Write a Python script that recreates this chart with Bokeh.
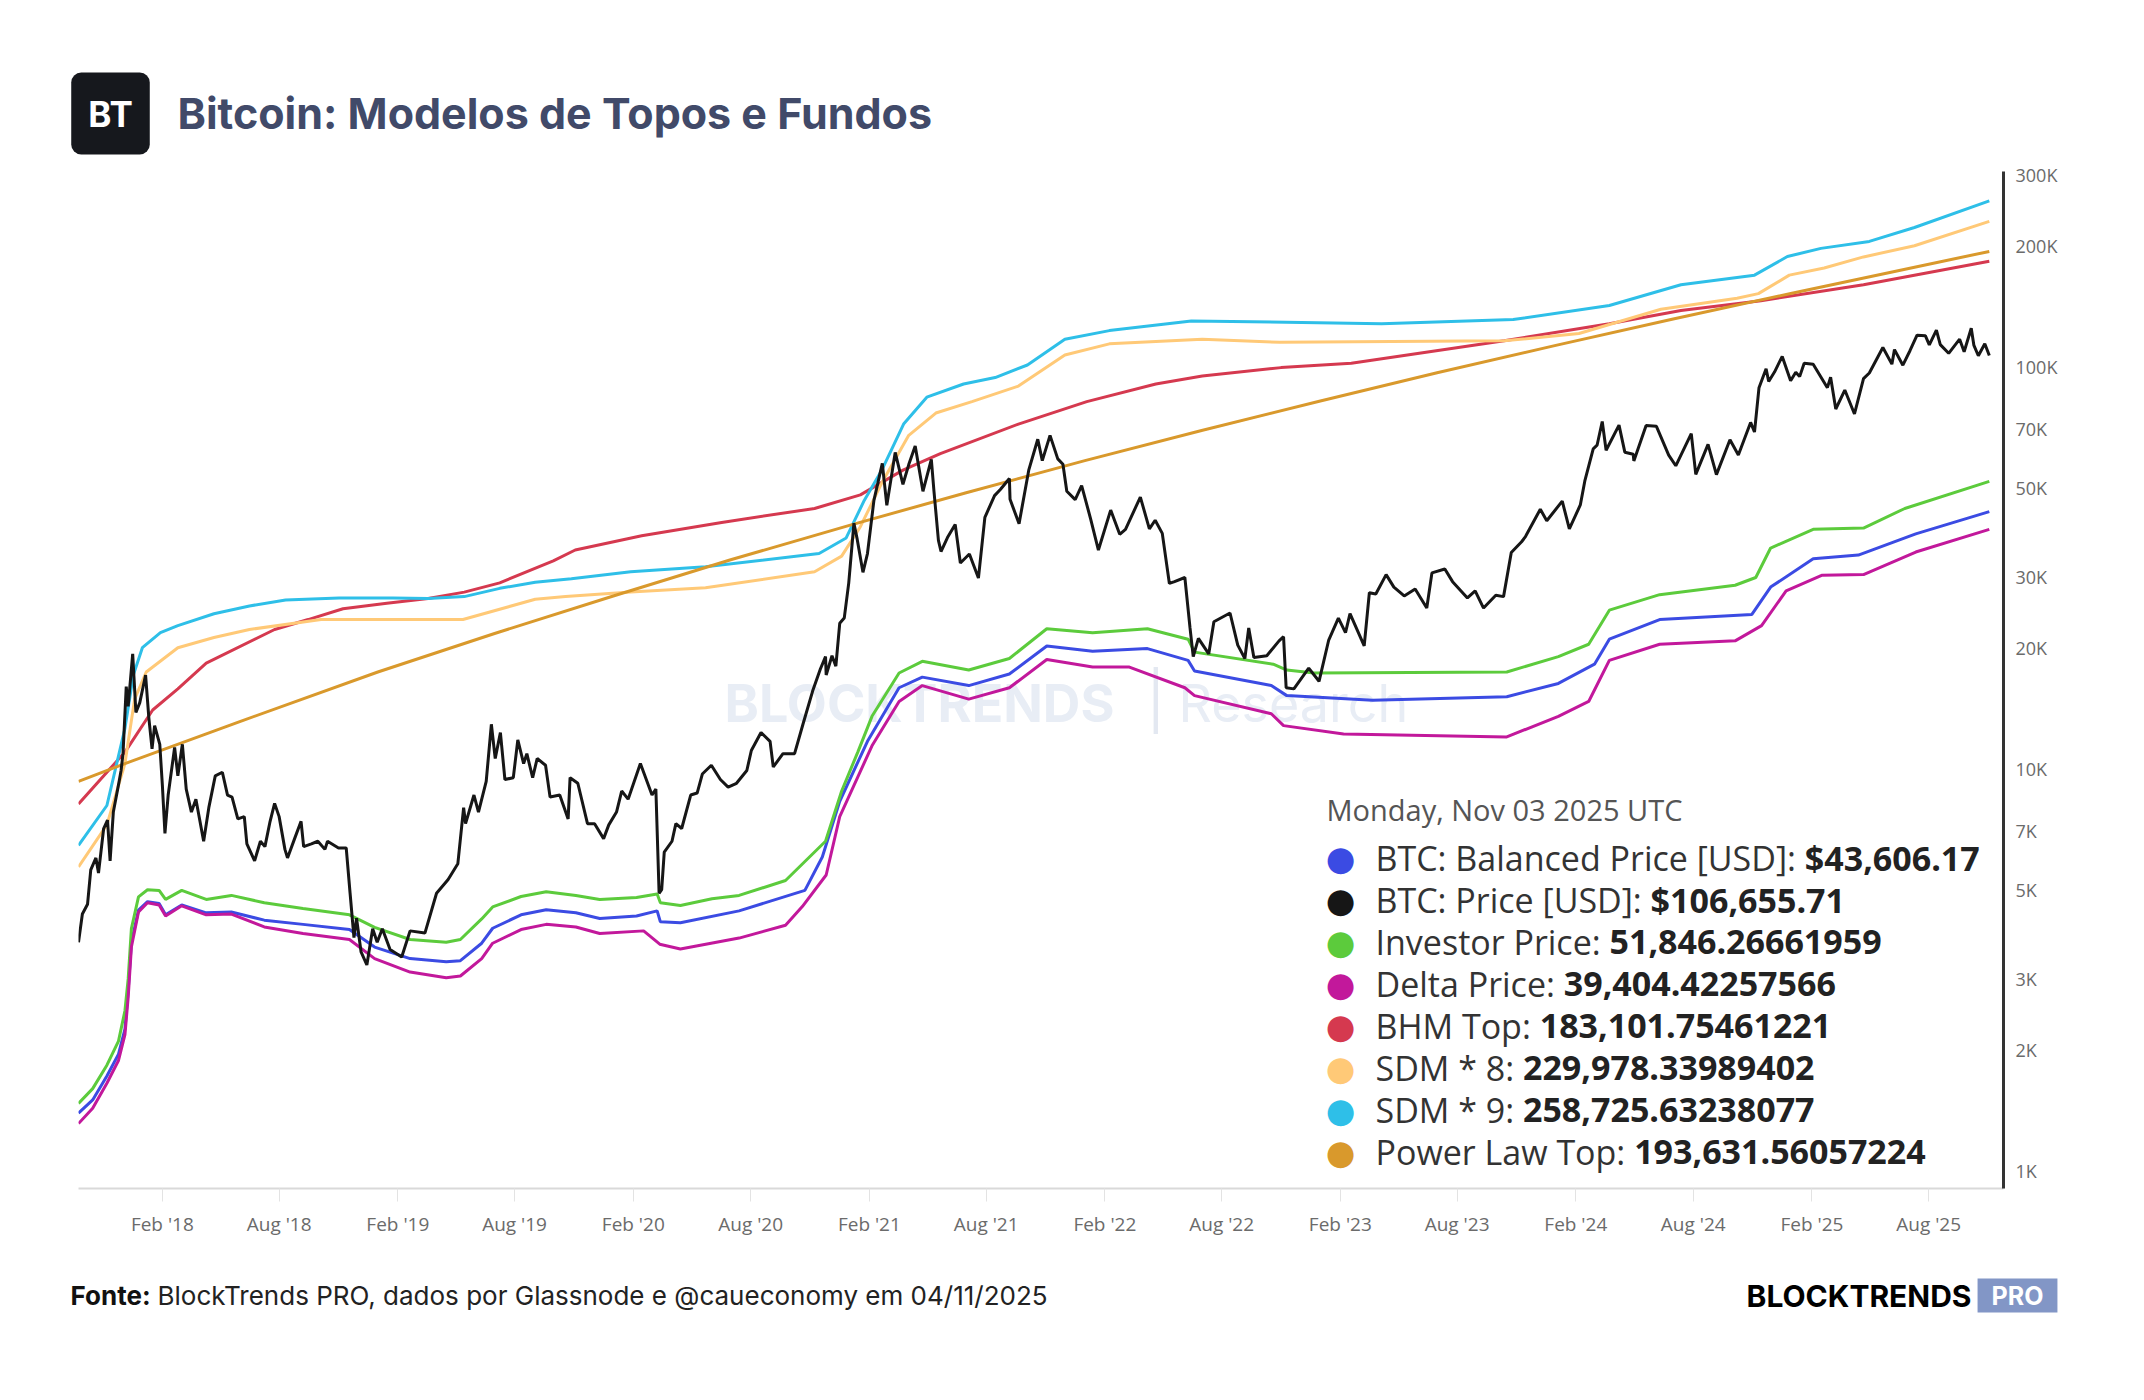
import os, struct, subprocess
import numpy as np
import pandas as pd
from bokeh.plotting import figure
from bokeh.layouts import column
from bokeh.models import Range1d, FixedTicker, DatetimeTickFormatter, Label, CustomJSTickFormatter
from bokeh.embed import file_html
from bokeh.resources import INLINE

# ---------------- data ----------------
price_dates = ["2017-09-24","2017-09-30","2017-10-08","2017-10-13","2017-10-21","2017-10-25","2017-11-02","2017-11-08","2017-11-12","2017-11-17",
"2017-11-26","2017-11-29","2017-12-02","2017-12-07","2017-12-10","2017-12-17","2017-12-22","2017-12-28","2018-01-06","2018-01-11",
"2018-01-16","2018-01-20","2018-01-28","2018-02-01","2018-02-05","2018-02-10","2018-02-20","2018-02-25","2018-03-04","2018-03-10",
"2018-03-18","2018-03-25","2018-04-06","2018-04-14","2018-04-24","2018-05-05","2018-05-13","2018-05-20","2018-05-29","2018-06-08",
"2018-06-12","2018-06-24","2018-07-03","2018-07-10","2018-07-18","2018-07-25","2018-08-01","2018-08-10","2018-08-14","2018-08-25",
"2018-09-04","2018-09-08","2018-09-20","2018-09-30","2018-10-11","2018-10-15","2018-11-01","2018-11-13","2018-11-19","2018-11-25",
"2018-11-29","2018-12-06","2018-12-15","2018-12-24","2018-12-31","2019-01-08","2019-01-20","2019-02-07","2019-02-20","2019-03-15",
"2019-04-02","2019-04-20","2019-05-05","2019-05-14","2019-05-17","2019-05-30","2019-06-06","2019-06-18","2019-06-26","2019-07-02",
"2019-07-10","2019-07-17","2019-07-30","2019-08-06","2019-08-15","2019-08-20","2019-08-29","2019-09-05","2019-09-18","2019-09-25",
"2019-10-10","2019-10-23","2019-10-26","2019-11-07","2019-11-22","2019-12-03","2019-12-17","2019-12-25","2020-01-06","2020-01-14",
"2020-01-24","2020-02-12","2020-02-19","2020-03-01","2020-03-07","2020-03-12","2020-03-16","2020-03-20","2020-04-01","2020-04-07",
"2020-04-16","2020-04-30","2020-05-10","2020-05-18","2020-06-01","2020-06-15","2020-06-27","2020-07-10","2020-07-26","2020-08-02",
"2020-08-17","2020-08-31","2020-09-05","2020-09-20","2020-10-08","2020-10-21","2020-11-05","2020-11-17","2020-11-25","2020-11-26",
"2020-12-05","2020-12-11","2020-12-17","2020-12-24","2020-12-31","2021-01-08","2021-01-13","2021-01-22","2021-01-29","2021-02-08",
"2021-02-21","2021-02-28","2021-03-13","2021-03-25","2021-04-03","2021-04-13","2021-04-25","2021-05-08","2021-05-12","2021-05-19",
"2021-05-23","2021-06-02","2021-06-14","2021-06-22","2021-07-06","2021-07-20","2021-07-30","2021-08-14","2021-08-23","2021-09-06",
"2021-09-07","2021-09-21","2021-10-06","2021-10-20","2021-10-27","2021-11-08","2021-11-20","2021-11-28","2021-12-04","2021-12-17",
"2021-12-27","2022-01-10","2022-01-22","2022-02-10","2022-02-24","2022-03-05","2022-03-28","2022-04-11","2022-04-20","2022-05-01",
"2022-05-12","2022-05-20","2022-06-05","2022-06-13","2022-06-18","2022-06-26","2022-07-12","2022-07-20","2022-08-14","2022-08-26",
"2022-09-06","2022-09-12","2022-09-20","2022-10-10","2022-10-29","2022-11-05","2022-11-09","2022-11-21","2022-12-14","2022-12-30",
"2023-01-14","2023-01-29","2023-02-09","2023-02-16","2023-03-10","2023-03-18","2023-03-28","2023-04-13","2023-04-25","2023-05-11",
"2023-05-28","2023-06-15","2023-06-23","2023-07-13","2023-07-25","2023-08-17","2023-08-29","2023-09-11","2023-09-30","2023-10-12",
"2023-10-24","2023-11-09","2023-11-15","2023-12-08","2023-12-18","2024-01-11","2024-01-22","2024-02-08","2024-02-15","2024-02-28",
"2024-03-05","2024-03-13","2024-03-19","2024-04-08","2024-04-17","2024-04-30","2024-05-01","2024-05-20","2024-06-05","2024-06-24",
"2024-07-05","2024-07-29","2024-08-05","2024-08-24","2024-09-06","2024-09-27","2024-10-10","2024-10-29","2024-11-04","2024-11-11",
"2024-11-22","2024-11-26","2024-12-05","2024-12-17","2024-12-30","2025-01-07","2025-01-13","2025-01-20","2025-02-03","2025-02-25",
"2025-03-02","2025-03-10","2025-03-24","2025-04-08","2025-04-22","2025-05-01","2025-05-22","2025-06-05","2025-06-09","2025-06-22",
"2025-07-03","2025-07-14","2025-07-27","2025-08-02","2025-08-13","2025-08-19","2025-09-01","2025-09-18","2025-09-25","2025-10-06",
"2025-10-10","2025-10-17","2025-10-27","2025-11-03"]
price_usd = [3700,4350,4600,5600,6000,5500,7100,7450,5900,7800,
9300,9900,10900,16000,14300,19300,13800,14600,17100,13400,
11200,12800,11500,9100,6900,8600,11300,9600,11500,8900,
7800,8400,6600,8000,9600,9800,8600,8500,7500,7600,
6500,5900,6600,6400,7400,8200,7600,6300,6000,6700,
7400,6400,6500,6600,6300,6600,6350,6350,4900,3800,
4250,3500,3250,4000,3700,4000,3550,3400,3950,3900,
4900,5300,5800,8000,7300,8600,7800,9300,12900,10600,
12300,9400,9500,11800,10300,10900,9500,10600,10200,8500,
8600,7500,9500,9200,7300,7300,6700,7250,7800,8800,
8400,10300,9600,8600,8900,4900,5000,6200,6600,7300,
7100,8600,8700,9700,10200,9400,9000,9200,9900,11100,
12300,11700,10100,10900,10900,12900,15600,17700,19000,17100,
19100,18000,23000,23700,29000,40800,37300,30800,34300,46500,
57500,45200,61200,51000,57100,63500,49000,58800,49200,37000,
34700,37600,40500,32500,34200,29800,42200,47800,49500,52700,
46800,40700,55300,66000,58400,67500,59000,57200,49000,46700,
50600,41800,35000,44000,38300,39400,47400,39500,41500,38500,
28900,29200,29900,22400,19000,21100,19300,23200,24400,20300,
18800,22400,18900,19100,20800,21300,15900,15800,17800,16500,
20900,23700,21800,24300,20200,27400,27200,30400,28300,26900,
28000,25100,30700,31400,29200,26600,27700,25100,27000,26800,
34500,36700,37800,44200,41400,46300,39500,45300,52000,62500,
63800,73100,62000,71600,61300,60600,58300,71400,71100,60300,
56700,68200,54000,64100,53900,65800,60300,72700,68800,88700,
98900,91900,97000,106100,92300,96900,94500,102000,101400,88700,
94200,78500,87500,76300,93400,96500,111700,101500,110300,100900,
109600,119800,119400,113300,123300,113500,108000,117100,109000,124700,
113200,106500,114100,106656]

investor_dates = ["2017-09-24","2017-10-16","2017-11-07","2017-11-25","2017-12-05","2017-12-10","2017-12-15","2017-12-26","2018-01-09","2018-01-27",
"2018-02-06","2018-03-03","2018-04-10","2018-05-19","2018-07-09","2018-09-07","2018-11-18","2018-12-27","2019-02-20","2019-04-17",
"2019-05-09","2019-06-11","2019-06-28","2019-08-11","2019-09-19","2019-11-04","2019-12-11","2020-02-06","2020-03-09","2020-03-14",
"2020-04-14","2020-06-02","2020-07-14","2020-09-24","2020-11-25","2020-12-20","2021-01-14","2021-02-05","2021-03-19","2021-04-24",
"2021-07-05","2021-09-06","2021-11-03","2022-01-13","2022-04-08","2022-06-10","2022-06-20","2022-10-20","2022-11-10","2022-12-22",
"2023-10-17","2024-01-05","2024-02-21","2024-03-24","2024-06-10","2024-10-05","2024-11-06","2024-11-29","2025-02-03","2025-04-22",
"2025-06-25","2025-11-03"]
investor_k = [1.47,1.60,1.83,2.10,2.50,3.00,4.00,4.80,5.00,4.98,
4.73,4.98,4.73,4.84,4.64,4.49,4.33,4.03,3.76,3.70,
3.76,4.23,4.53,4.81,4.94,4.84,4.73,4.78,4.88,4.64,
4.57,4.75,4.84,5.27,6.60,8.80,11.0,13.5,17.3,18.5,
17.6,18.8,22.3,21.8,22.3,21.0,19.5,18.2,17.6,17.3,
17.4,19.0,20.4,24.8,27.1,28.6,29.9,35.4,39.4,39.7,
44.4,51.85]

balanced_dates = ["2017-09-24","2017-10-16","2017-11-07","2017-11-25","2017-12-05","2017-12-10","2017-12-15","2017-12-26","2018-01-09","2018-01-27",
"2018-02-06","2018-03-03","2018-04-10","2018-05-19","2018-07-09","2018-09-07","2018-11-18","2018-12-27","2019-02-20","2019-04-17",
"2019-05-09","2019-06-11","2019-06-28","2019-08-11","2019-09-19","2019-11-04","2019-12-11","2020-02-06","2020-03-09","2020-03-14",
"2020-04-14","2020-07-14","2020-10-24","2020-11-20","2020-12-17","2021-01-29","2021-03-19","2021-04-24","2021-07-05","2021-09-06",
"2021-11-03","2022-01-13","2022-04-08","2022-06-10","2022-06-20","2022-10-17","2022-11-10","2023-03-23","2023-10-17","2024-01-05",
"2024-03-01","2024-03-24","2024-06-10","2024-10-31","2024-11-29","2025-02-03","2025-04-14","2025-07-12","2025-11-03"]
balanced_k = [1.39,1.50,1.72,1.95,2.25,2.80,3.70,4.45,4.67,4.62,
4.33,4.58,4.38,4.40,4.20,4.10,3.98,3.60,3.37,3.31,
3.33,3.68,4.01,4.33,4.46,4.38,4.24,4.30,4.43,4.16,
4.14,4.43,4.98,6.03,8.30,11.7,15.9,16.9,16.1,17.2,
20.2,19.6,19.9,18.6,17.5,16.1,15.2,14.8,15.1,16.3,
18.2,21.0,23.5,24.2,28.3,33.3,34.0,38.4,43.6]

delta_dates = ["2017-09-24","2017-10-16","2017-11-07","2017-11-25","2017-12-05","2017-12-10","2017-12-15","2017-12-26","2018-01-09","2018-01-27",
"2018-02-06","2018-03-03","2018-04-10","2018-05-19","2018-07-09","2018-09-07","2018-11-18","2018-12-27","2019-02-20","2019-04-17",
"2019-05-09","2019-06-11","2019-06-28","2019-08-11","2019-09-19","2019-11-04","2019-12-11","2020-02-17","2020-03-13","2020-04-14",
"2020-07-14","2020-09-24","2020-10-20","2020-11-26","2020-12-17","2021-02-05","2021-03-19","2021-04-24","2021-07-05","2021-09-06",
"2021-11-03","2022-01-13","2022-03-11","2022-06-05","2022-06-20","2022-10-17","2022-11-05","2023-02-06","2023-10-17","2024-01-05",
"2024-02-21","2024-03-24","2024-06-10","2024-10-05","2024-11-15","2024-12-23","2025-02-17","2025-04-22","2025-07-12","2025-11-03"]
delta_k = [1.31,1.43,1.65,1.88,2.18,2.70,3.60,4.40,4.64,4.58,
4.30,4.56,4.33,4.35,4.04,3.89,3.76,3.37,3.12,3.02,
3.05,3.37,3.68,3.98,4.10,4.04,3.89,3.95,3.66,3.56,
3.79,4.08,4.54,5.44,7.60,11.4,14.7,16.1,14.9,15.9,
18.7,17.9,17.9,15.9,15.2,13.7,12.8,12.2,12.0,13.5,
14.7,18.6,20.4,20.8,22.7,27.7,30.3,30.4,34.6,39.4]

bhm_dates = ["2017-09-24","2017-12-05","2018-01-17","2018-02-25","2018-04-10","2018-07-25","2018-09-15","2018-11-08","2019-01-15","2019-03-20",
"2019-05-15","2019-07-09","2019-09-30","2019-11-03","2020-02-14","2020-06-17","2020-11-08","2021-01-18","2021-03-25","2021-05-22",
"2021-09-20","2022-01-04","2022-04-21","2022-07-02","2022-11-01","2023-02-18","2023-10-13","2024-03-24","2024-07-13","2024-11-14",
"2025-04-22","2025-11-03"]
bhm_k = [8.17,11.0,14.0,15.8,18.3,22.2,23.5,25.0,25.8,26.5,
27.5,29.0,32.9,35.0,38.0,41.0,44.4,48.0,55.3,60.8,
72.0,81.9,90.6,94.8,99.5,102,116,128,138,146,
160,183.1]

sdm8_dates = ["2017-09-24","2017-11-07","2017-12-05","2017-12-20","2018-01-07","2018-02-25","2018-04-22","2018-06-16","2018-10-05","2019-01-24",
"2019-05-13","2019-09-02","2019-10-19","2020-01-28","2020-05-23","2020-11-08","2020-12-20","2021-01-18","2021-02-21","2021-04-03",
"2021-05-15","2021-07-10","2021-09-20","2021-12-01","2022-02-08","2022-07-02","2022-10-30","2023-10-13","2024-02-06","2024-06-12",
"2024-10-08","2024-11-10","2024-12-28","2025-02-20","2025-04-22","2025-07-10","2025-11-03"]
sdm8_k = [5.70,7.25,10.3,14.9,17.4,20.0,21.2,22.2,23.5,23.5,
23.5,26.4,26.8,27.5,28.2,30.9,33.8,40.0,51.7,67.5,
76.7,81.9,89.5,107,114,117,115,116,121,139,
148,152,169,176,187.6,200,230.0]

sdm9_dates = ["2017-09-24","2017-11-07","2017-12-05","2017-12-18","2018-01-01","2018-01-29","2018-02-25","2018-04-22","2018-06-16","2018-08-11",
"2018-11-02","2019-01-24","2019-03-20","2019-05-15","2019-07-09","2019-09-02","2019-10-28","2020-01-28","2020-05-23","2020-11-15",
"2020-12-27","2021-01-24","2021-02-21","2021-03-26","2021-05-01","2021-06-27","2021-08-15","2021-10-04","2021-12-01","2022-02-08",
"2022-06-15","2023-04-06","2023-10-27","2024-03-24","2024-07-13","2024-11-04","2024-12-25","2025-02-15","2025-05-01","2025-07-10",
"2025-11-03"]
sdm9_k = [6.45,8.10,12.6,17.1,20.0,21.8,22.7,24.3,25.4,26.3,
26.6,26.6,26.5,26.8,28.1,29.1,29.7,30.9,31.8,34.3,
37.5,46.5,55.6,72.0,84.0,90.6,94.0,101,117,123,
130,128,131,142,160,169,188,197,205,222,
258.7]

powerlaw_dates = ["2017-09-24","2017-12-05","2018-06-01","2019-01-01","2019-07-01","2020-01-01","2020-07-01","2021-01-01","2021-07-01","2022-01-01",
"2022-07-01","2023-01-01","2023-07-01","2024-01-01","2024-07-01","2025-01-01","2025-07-01","2025-11-03"]
powerlaw_k = [9.3,10.3,13.1,17.4,21.7,26.9,33.1,40.3,48.6,58.4,
69.4,82.2,96.6,113,131.5,152.4,175.6,193.6]

x_tick_dates = ["2018-02-01","2018-08-01","2019-02-01","2019-08-01","2020-02-01","2020-08-01","2021-02-01","2021-08-01",
"2022-02-01","2022-08-01","2023-02-01","2023-08-01","2024-02-01","2024-08-01","2025-02-01","2025-08-01"]
x_tick_labels = ["Feb '18","Aug '18","Feb '19","Aug '19","Feb '20","Aug '20","Feb '21","Aug '21",
"Feb '22","Aug '22","Feb '23","Aug '23","Feb '24","Aug '24","Feb '25","Aug '25"]
y_tick_values = [1000, 2000, 3000, 5000, 7000, 10000, 20000, 30000, 50000, 70000, 100000, 200000, 300000]
y_tick_labels = ["1K","2K","3K","5K","7K","10K","20K","30K","50K","70K","100K","200K","300K"]

legend_header = "Monday, Nov 03 2025 UTC"
legend_names = ["BTC: Balanced Price [USD]: ", "BTC: Price [USD]: ", "Investor Price: ", "Delta Price: ",
                "BHM Top: ", "SDM * 8: ", "SDM * 9: ", "Power Law Top: "]
legend_values = ["$43,606.17", "$106,655.71", "51,846.26661959", "39,404.42257566",
                 "183,101.75461221", "229,978.33989402", "258,725.63238077", "193,631.56057224"]

title_text = "Bitcoin: Modelos de Topos e Fundos"
source_bold = "Fonte:"
source_text = "BlockTrends PRO, dados por Glassnode e @caueconomy em 04/11/2025"

# ---------------- styling ----------------
C_BAL, C_PRICE, C_INV, C_DELTA = "#3b4be3", "#161616", "#5ccb3c", "#c2189b"
C_BHM, C_SDM8, C_SDM9, C_PL = "#d5394f", "#ffc977", "#2ebfe8", "#d9992c"
legend_colors = [C_BAL, C_PRICE, C_INV, C_DELTA, C_BHM, C_SDM8, C_SDM9, C_PL]

W = 2144
HEAD_H, MAIN_H, FOOT_H = 160, 1090, 150          # stacked: 0-160, 160-1250, 1250-1400
FL, FR, FT, FB = 78, 2003, 171, 1188              # frame of the chart, page pixels


def ts(s):
    return pd.to_datetime(s)


# ------- font metrics (to place the bold values right after the labels) -------
def find_font(name):
    try:
        out = subprocess.run(["fc-match", "-f", "%{file}", name], capture_output=True, text=True, timeout=10).stdout.strip()
        if out and os.path.exists(out):
            return out
    except Exception:
        pass
    return None


def make_measure(path):
    data = open(path, "rb").read()
    off0 = struct.unpack(">I", data[12:16])[0] if data[:4] == b"ttcf" else 0
    ntab = struct.unpack(">H", data[off0 + 4:off0 + 6])[0]
    tabs = {}
    for i in range(ntab):
        r = off0 + 12 + 16 * i
        tabs[data[r:r + 4].decode("latin1")] = struct.unpack(">III", data[r + 4:r + 16])[1]
    upem = struct.unpack(">H", data[tabs["head"] + 18:tabs["head"] + 20])[0]
    nhm = struct.unpack(">H", data[tabs["hhea"] + 34:tabs["hhea"] + 36])[0]
    hm = tabs["hmtx"]
    advs = [struct.unpack(">H", data[hm + 4 * i:hm + 4 * i + 2])[0] for i in range(nhm)]
    cm = tabs["cmap"]
    nsub = struct.unpack(">H", data[cm + 2:cm + 4])[0]
    st = None
    for i in range(nsub):
        pid, eid, o = struct.unpack(">HHI", data[cm + 4 + 8 * i:cm + 12 + 8 * i])
        if struct.unpack(">H", data[cm + o:cm + o + 2])[0] == 4:
            st = cm + o
            break
    segx2 = struct.unpack(">H", data[st + 6:st + 8])[0]
    seg = segx2 // 2
    ends = struct.unpack(">%dH" % seg, data[st + 14:st + 14 + segx2])
    starts = struct.unpack(">%dH" % seg, data[st + 16 + segx2:st + 16 + 2 * segx2])
    deltas = struct.unpack(">%dh" % seg, data[st + 16 + 2 * segx2:st + 16 + 3 * segx2])
    ro = st + 16 + 3 * segx2
    ros = struct.unpack(">%dH" % seg, data[ro:ro + segx2])

    def gid(c):
        for i in range(seg):
            if ends[i] >= c:
                if starts[i] > c:
                    return 0
                if ros[i] == 0:
                    return (c + deltas[i]) & 0xFFFF
                a = ro + 2 * i + ros[i] + 2 * (c - starts[i])
                g = struct.unpack(">H", data[a:a + 2])[0]
                return (g + deltas[i]) & 0xFFFF if g else 0
        return 0

    def measure(s, size):
        return sum(advs[min(gid(ord(ch)), nhm - 1)] for ch in s) * size / upem
    return measure


LEG_FONT = "Open Sans"
LEG_SIZE = 34
try:
    measure = make_measure(find_font(LEG_FONT))
except Exception:
    measure = lambda s, size: 0.56 * size * len(s)


def no_align(f):
    try:
        f.frame_align = False
    except Exception:
        pass


def blank_fig(h):
    f = figure(width=W, height=h, x_range=Range1d(0, W), y_range=Range1d(h, 0),
               output_backend="svg", toolbar_location=None, x_axis_location=None, y_axis_location=None,
               min_border=0, min_border_left=0, min_border_right=0, min_border_top=0, min_border_bottom=0)
    f.outline_line_color = None
    f.xgrid.visible = False
    f.ygrid.visible = False
    f.background_fill_color = "white"
    f.border_fill_color = "white"
    no_align(f)
    return f


def add_text(fig, text, x, y, size, color, font="Inter", bold=False, align="left", level="annotation",
             units="data", **kw):
    l = Label(x=x, y=y, x_units=units, y_units=units, text=text,
              text_font=font, text_font_size="%dpx" % size, text_color=color,
              text_font_style="bold" if bold else "normal", text_align=align,
              text_baseline="middle", level=level, **kw)
    fig.add_layout(l)
    return l


# ---------------- header ----------------
head = blank_fig(HEAD_H)
add_text(head, "BT", 110, 113, 35, "white", bold=True, align="center",
         background_fill_color="#16181d", padding=(17, 20), border_radius=10)
add_text(head, title_text, 177, 112, 43, "#414a69", bold=True)

# ---------------- main chart ----------------
p = figure(width=W, height=MAIN_H, x_axis_type="datetime", y_axis_type="log", y_axis_location="right",
           output_backend="svg", toolbar_location=None,
           x_range=Range1d(ts("2017-09-24"), ts("2025-11-25")), y_range=Range1d(903, 306000),
           min_border_left=FL, min_border_right=W - FR, min_border_top=FT - HEAD_H,
           min_border_bottom=HEAD_H + MAIN_H - FB)
no_align(p)
p.outline_line_color = None
p.background_fill_color = "white"
p.border_fill_color = "white"
p.xgrid.visible = False
p.ygrid.visible = False

xa = p.xaxis[0]
xticks = [ts(d).value / 1e6 for d in x_tick_dates]
xa.ticker = FixedTicker(ticks=xticks)
xa.formatter = DatetimeTickFormatter(months="%b '%y", days="%b '%y", years="%b '%y")
xa.major_label_overrides = {t: l for t, l in zip(xticks, x_tick_labels)}
xa.axis_line_color = "#d9d9d9"
xa.axis_line_width = 2
xa.major_tick_line_color = "#e3e3e3"
xa.major_tick_out = 13
xa.major_tick_in = 0
xa.minor_tick_line_color = None
xa.major_label_text_font = "Open Sans"
xa.major_label_text_font_size = "19px"
xa.major_label_text_color = "#6b6b6b"
xa.major_label_standoff = 9

ya = p.yaxis[0]
ya.ticker = FixedTicker(ticks=y_tick_values)
ya.formatter = CustomJSTickFormatter(code="return Math.round(tick/1000) + 'K';")
ya.major_label_overrides = {v: l for v, l in zip(y_tick_values, y_tick_labels)}
ya.axis_line_color = "#333333"
ya.axis_line_width = 3
ya.major_tick_line_color = None
ya.major_tick_out = 0
ya.major_tick_in = 0
ya.minor_tick_line_color = None
ya.major_label_text_font = "Open Sans"
ya.major_label_text_font_size = "18px"
ya.major_label_text_color = "#6b6b6b"
ya.major_label_standoff = 12


def lab(text, cx, cy, size, color, **kw):
    # page pixel position -> screen units of the main frame (origin bottom-left of frame)
    return add_text(p, text, cx - FL, FB - cy, size, color, units="screen", **kw)


# watermark (behind the lines)
lab("BLOCKTRENDS", 724, 703, 52, "#e8edf5", bold=True, level="underlay")
lab("|", 1146, 700, 56, "#e3e8f1", level="underlay")
lab("Research", 1178, 703, 52, "#e8edf5", level="underlay")

series = [
    (balanced_dates, balanced_k, C_BAL),
    (investor_dates, investor_k, C_INV),
    (delta_dates, delta_k, C_DELTA),
    (bhm_dates, bhm_k, C_BHM),
    (sdm8_dates, sdm8_k, C_SDM8),
    (sdm9_dates, sdm9_k, C_SDM9),
    (powerlaw_dates, powerlaw_k, C_PL),
]
for d, v, c in series:
    p.line(ts(d), np.array(v) * 1000.0, line_color=c, line_width=3)
p.line(ts(price_dates), price_usd, line_color=C_PRICE, line_width=3)

# legend block
lab(legend_header, 1326, 809, 29, "#555555", font=LEG_FONT)
LX, DOT_X, Y0, DY = 1375, 1340, 857, 42.1
for i, (nm, val, col) in enumerate(zip(legend_names, legend_values, legend_colors)):
    y = Y0 + i * DY
    lab("\u25cf", DOT_X, y, 34, col, font="DejaVu Sans", align="center")
    lab(nm, LX, y, LEG_SIZE, "#333333", font=LEG_FONT)
    lab(val, LX + measure(nm, LEG_SIZE), y, LEG_SIZE, "#222222", font=LEG_FONT, bold=True)

# ---------------- footer ----------------
foot = blank_fig(FOOT_H)
FY = 1295 - (HEAD_H + MAIN_H)
add_text(foot, source_bold, 70, FY, 26, "#111111", bold=True)
add_text(foot, source_text, 157, FY, 26, "#222222")
add_text(foot, "BLOCKTRENDS", 1971, FY, 30, "#000000", bold=True, align="right")
add_text(foot, "PRO", 2017, FY, 25, "white", bold=True, align="center",
         background_fill_color="#8296c6", padding=(14, 2))

page = column(head, p, foot, spacing=0)
open("out.html", "w").write(file_html(page, INLINE))
